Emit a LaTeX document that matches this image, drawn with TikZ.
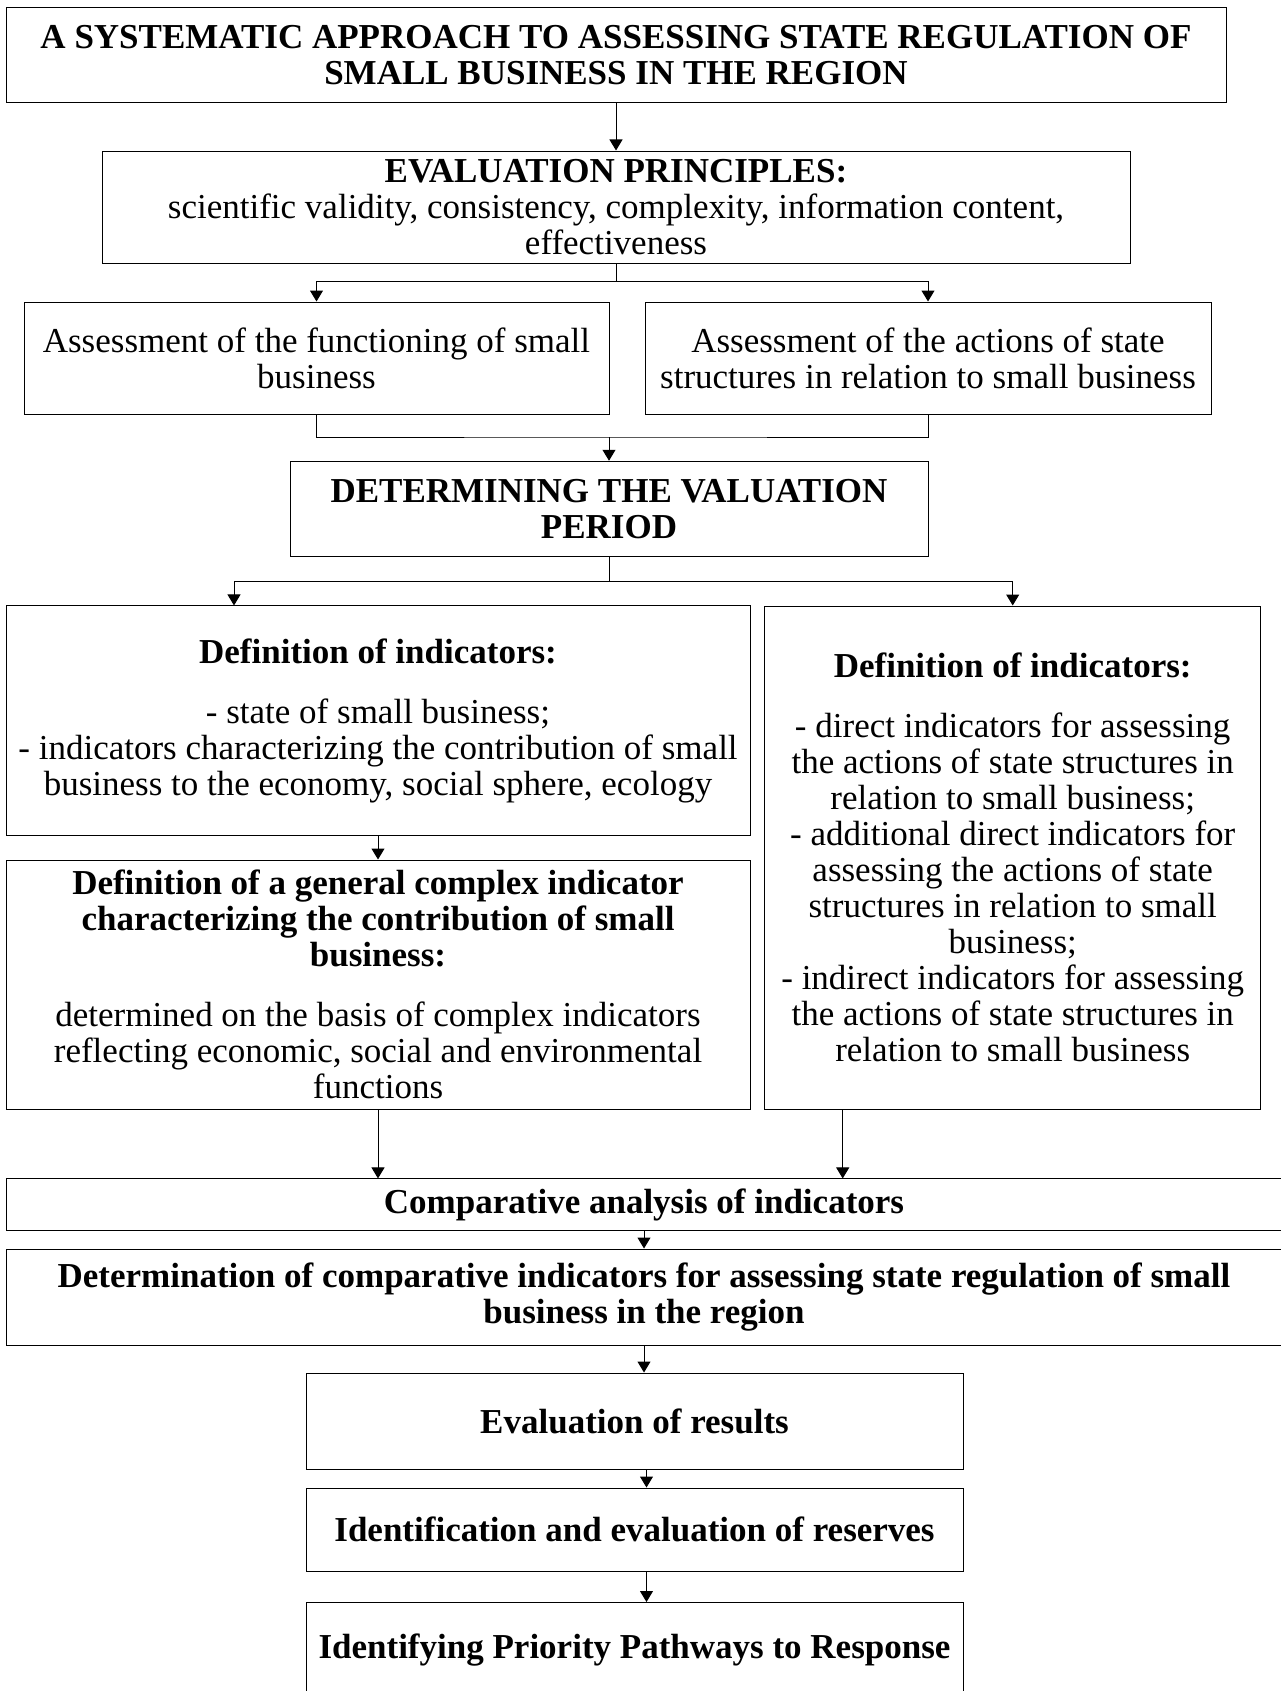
\documentclass[tikz,border=0pt]{standalone}
\usepackage{fontspec}
\setmainfont{Liberation Serif}
\usetikzlibrary{arrows.meta}

\begin{document}
\begin{tikzpicture}[x=0.5pt, y=-0.5pt,
  box/.style={draw, line width=0.5pt, align=center, inner sep=0pt, font=\fontsize{17.5}{18}\selectfont},
  bbox/.style={box, font=\fontsize{17.5}{18}\selectfont\bfseries},
  arr/.style={-{Triangle[width=6.5pt,length=5.5pt]}, line width=0.5pt}]
  \useasboundingbox (0,0) rectangle (1280,1691);

  \node[bbox, minimum width=610pt, minimum height=47.5pt] (title) at (616,55.5)
    {A SYSTEMATIC APPROACH TO ASSESSING STATE REGULATION OF\\SMALL BUSINESS IN THE REGION};
  \node[box, minimum width=514pt, minimum height=56pt] (princ) at (616,207)
    {\textbf{EVALUATION PRINCIPLES:}\\scientific validity, consistency, complexity, information content,\\effectiveness};
  \node[box, minimum width=292.5pt, minimum height=56pt] (assessL) at (316.5,358)
    {Assessment of the functioning of small\\business};
  \node[box, minimum width=283pt, minimum height=56pt] (assessR) at (928,358)
    {Assessment of the actions of state\\structures in relation to small business};
  \node[bbox, minimum width=319pt, minimum height=47.75pt] (period) at (609,509)
    {DETERMINING THE VALUATION\\PERIOD};
  \node[box, minimum width=372pt, minimum height=114.75pt] (defL) at (378,720.7)
    {\textbf{Definition of indicators:}\\[12pt]- state of small business;\\- indicators characterizing the contribution of small\\business to the economy, social sphere, ecology};
  \node[box, minimum width=247.75pt, minimum height=251.5pt] (defR) at (1012.7,857.5)
    {\textbf{Definition of indicators:}\\[12pt]- direct indicators for assessing\\the actions of state structures in\\relation to small business;\\- additional direct indicators for\\assessing the actions of state\\structures in relation to small\\business;\\- indirect indicators for assessing\\the actions of state structures in\\relation to small business};
  \node[box, minimum width=372pt, minimum height=124.5pt] (general) at (378,984.5)
    {\textbf{Definition of a general complex indicator}\\\textbf{characterizing the contribution of small}\\\textbf{business:}\\[12pt]determined on the basis of complex indicators\\reflecting economic, social and environmental\\functions};
  \node[bbox, minimum width=637.75pt, minimum height=25.75pt] (compar) at (644,1204.7)
    {Comparative analysis of indicators};
  \node[bbox, minimum width=637.75pt, minimum height=48pt] (determ) at (644,1297)
    {Determination of comparative indicators for assessing state regulation of small\\business in the region};
  \node[bbox, minimum width=328.5pt, minimum height=48pt] (results) at (634.5,1421)
    {Evaluation of results};
  \node[bbox, minimum width=328.5pt, minimum height=41.5pt] (reserves) at (634.5,1529.5)
    {Identification and evaluation of reserves};
  \node[bbox, minimum width=328.5pt, minimum height=47.5pt] (pathways) at (634.5,1650)
    {Identifying Priority Pathways to Response};

  \draw[arr] (title) -- (princ);
  \coordinate (split1) at (616,281);
  \draw[line width=0.5pt] (princ.south) -- (split1);
  \draw[arr] (split1) -| (assessL.north);
  \draw[arr] (split1) -| (assessR.north);
  \coordinate (join1) at (609,437);
  \draw[line width=0.5pt] (assessL.south) |- (join1) -| (assessR.south);
  \draw[arr] (join1) -- (period.north);
  \coordinate (split2) at (609,581);
  \draw[line width=0.5pt] (period.south) -- (split2);
  \draw[arr] (split2) -| ([xshift=-72pt]defL.north);
  \draw[arr] (split2) -| (defR.north);
  \draw[arr] (defL) -- (general);
  \draw[arr] (general.south) -- (general.south |- compar.north);
  \draw[arr] ([xshift=-85pt]defR.south) -- ([xshift=-85pt]defR.south |- compar.north);
  \draw[arr] (compar) -- (determ);
  \draw[arr] (determ.south) -- (determ.south |- results.north);
  \draw[arr] ([xshift=6pt]results.south) -- ([xshift=6pt]reserves.north);
  \draw[arr] ([xshift=6pt]reserves.south) -- ([xshift=6pt]pathways.north);
\end{tikzpicture}
\end{document}
